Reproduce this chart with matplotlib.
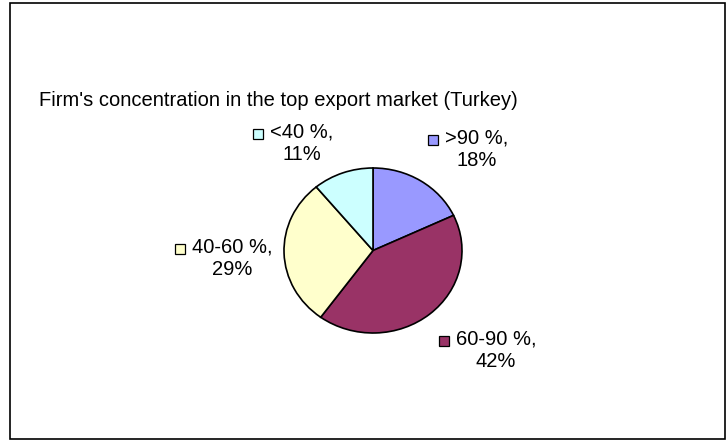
import matplotlib
matplotlib.use("Agg")
import matplotlib.pyplot as plt
from matplotlib.patches import Rectangle
from matplotlib.transforms import IdentityTransform

plt.rcParams["font.family"] = ["Liberation Sans", "DejaVu Sans"]

# data
categories = [">90 %", "60-90 %", "40-60 %", "<40 %"]
shares = [18, 42, 29, 11]
colors = ["#9999FF", "#993366", "#FFFFCC", "#CCFFFF"]
title = "Firm's concentration in the top export market (Turkey)"

# label block centres in pixels (x, y from top)
label_pos = [(477, 149), (496, 350), (232, 258), (302, 143)]

W, H = 726, 441
fig = plt.figure(figsize=(W / 100, H / 100), dpi=100)

# chart area border
fig.add_artist(Rectangle((9.5 / W, 2.5 / H), 715 / W, 436 / H, transform=fig.transFigure,
                         fill=False, edgecolor="black", linewidth=1.2))

# pie area (Excel draws it slightly oval)
cx, cy, rx, ry = 373, 250.5, 89, 82.5
ax = fig.add_axes([(cx - rx) / W, 1 - (cy + ry) / H, 2 * rx / W, 2 * ry / H])
ax.pie(shares, colors=colors, startangle=90, counterclock=False,
       wedgeprops=dict(edgecolor="black", linewidth=1.2))
ax.set_aspect("auto")
ax.set_xlim(-1, 1)
ax.set_ylim(-1, 1)
ax.axis("off")

fig.text(278 / W, 1 - 100 / H, title, ha="center", va="center", fontsize=14.5)

texts = []
for cat, val, (x, y) in zip(categories, shares, label_pos):
    t = fig.text(x / W, 1 - y / H, f"{cat},\n{val}%", ha="center", va="center",
                 multialignment="center", fontsize=14.5, linespacing=1.25)
    texts.append(t)

# legend keys in front of the first line of each label
fig.canvas.draw()
r = fig.canvas.get_renderer()
for t, c in zip(texts, colors):
    bb = t.get_window_extent(r)
    s = 10
    yc = bb.y1 - bb.height / 4 - 1
    fig.add_artist(Rectangle((bb.x0 - 7 - s, yc - s / 2), s, s, transform=IdentityTransform(),
                             facecolor=c, edgecolor="black", linewidth=0.9))

fig.savefig("out.png", dpi=100)
